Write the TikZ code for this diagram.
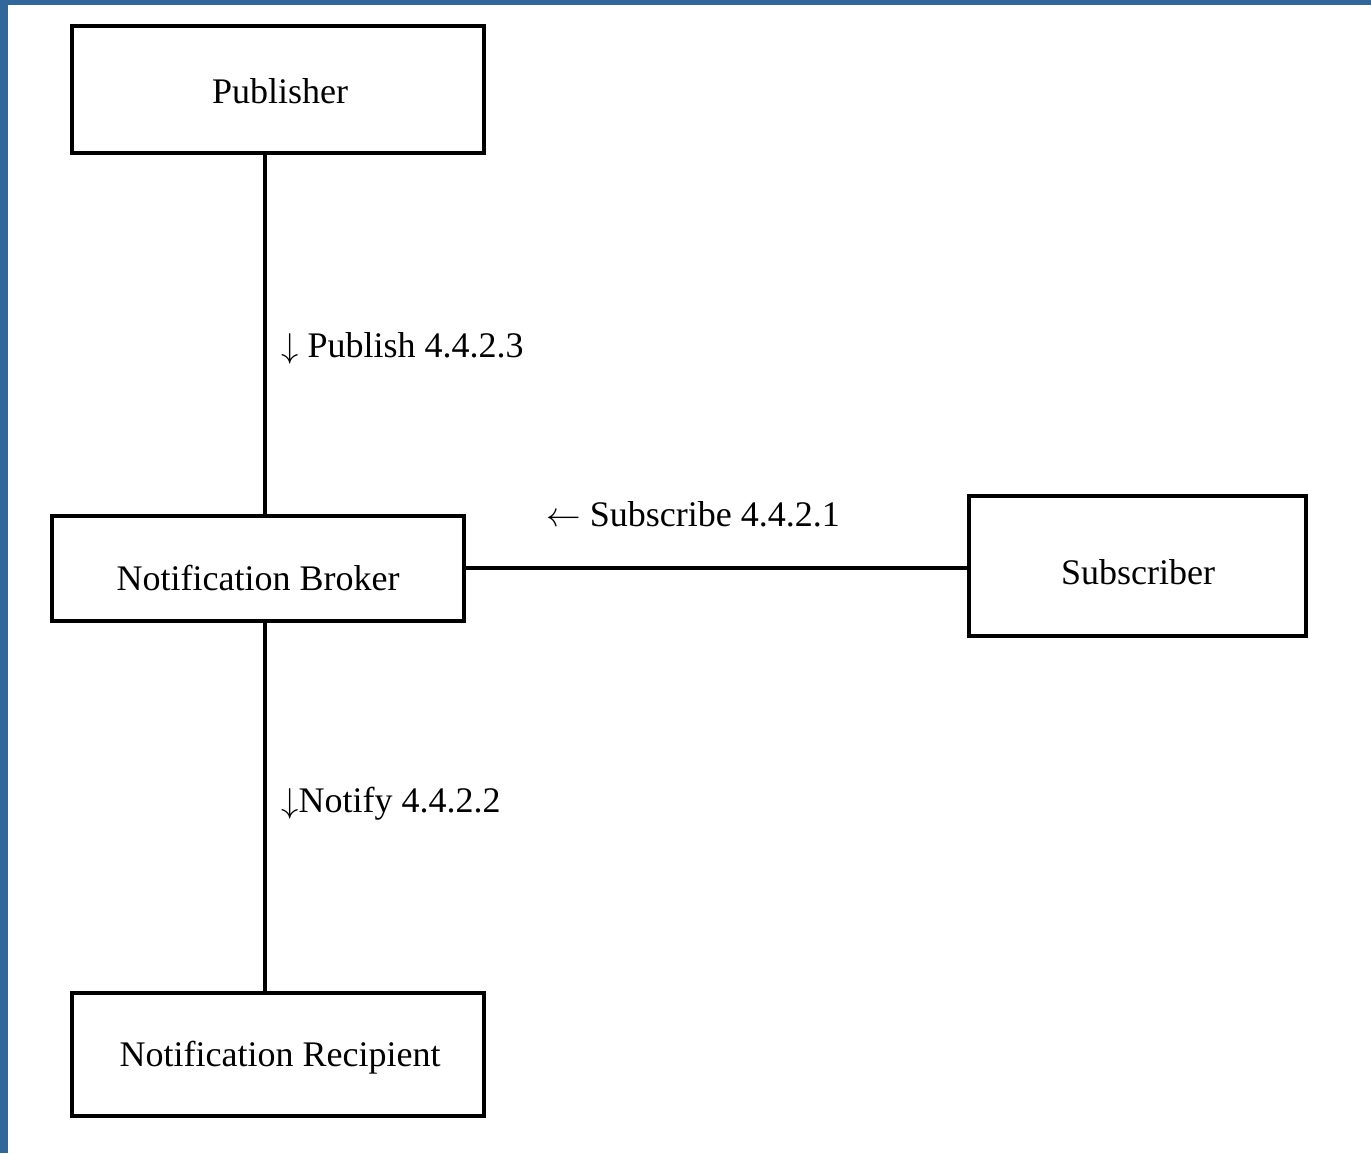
\documentclass[tikz,border=0pt]{standalone}
\usepackage{fontspec}
\setmainfont{Liberation Serif}
\definecolor{frameblue}{RGB}{50,103,155}
\begin{document}
\begin{tikzpicture}[x=0.5pt,y=-0.5pt,
  box/.style={draw,line width=2.3pt,rectangle,inner sep=0pt},
  txt/.style={inner sep=0pt,font=\fontsize{18}{22}\selectfont},
  lbl/.style={anchor=base west,inner sep=0pt,font=\fontsize{18}{22}\selectfont},
  link/.style={line width=2.3pt}]
  % page frame: blue edge on the left and top
  \fill[frameblue] (0,0) rectangle (1371,1153);
  \fill[white] (8,5) rectangle (1371,1153);
  \useasboundingbox (0,0) rectangle (1371,1153);
  % boxes
  \node[box,minimum width=206pt,minimum height=63.5pt] (pub) at (278,89.5) {};
  \node[box,minimum width=206pt,minimum height=52.5pt] (brk) at (258,568.5) {};
  \node[box,minimum width=168.5pt,minimum height=70pt] (sub) at (1137.5,566) {};
  \node[box,minimum width=206pt,minimum height=61.5pt] (rec) at (278,1054.5) {};
  % box captions
  \node[txt] (pubt) at (280,91) {Publisher};
  \node[txt] (brkt) at (258,578) {Notification Broker};
  \node[txt] (subt) at (1138,572) {Subscriber};
  \node[txt] (rect) at (280,1058) {Notification Recipient};
  % connectors
  \coordinate (v) at (265,0);
  \draw[link] (pub.south -| v) -- (brk.north -| v);
  \draw[link] (brk.south -| v) -- (rec.north -| v);
  \draw[link] (brk.east |- 0,568) -- (sub.west |- 0,568);
  % labels
  \node[lbl] (l1) at (281,357) {$\downarrow$ Publish 4.4.2.3};
  \node[lbl] (l2) at (546,526) {$\leftarrow$ Subscribe 4.4.2.1};
  \node[lbl] (l3) at (281,812) {$\downarrow$Notify 4.4.2.2};
\end{tikzpicture}
\end{document}
